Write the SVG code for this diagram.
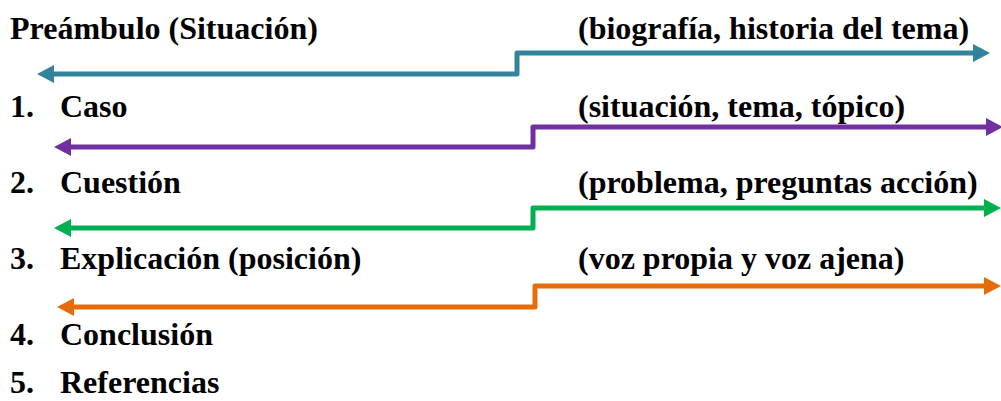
<svg xmlns="http://www.w3.org/2000/svg" width="1001" height="401" viewBox="0 0 1001 401">
<style>
text{font-family:"Liberation Serif","Times New Roman",serif;font-weight:bold;font-size:32px;fill:#000}
.ln{fill:none;stroke-width:5;stroke-linejoin:round}
</style>
<defs>
<marker id="mt" viewBox="0 0 17 18" refX="3" refY="9" markerWidth="17" markerHeight="18" markerUnits="userSpaceOnUse" orient="auto-start-reverse"><path d="M0,0 L17,9 L0,18 z" fill="#31849B"/></marker>
<marker id="mp" viewBox="0 0 17 18" refX="3" refY="9" markerWidth="17" markerHeight="18" markerUnits="userSpaceOnUse" orient="auto-start-reverse"><path d="M0,0 L17,9 L0,18 z" fill="#7030A0"/></marker>
<marker id="mg" viewBox="0 0 17 18" refX="3" refY="9" markerWidth="17" markerHeight="18" markerUnits="userSpaceOnUse" orient="auto-start-reverse"><path d="M0,0 L17,9 L0,18 z" fill="#00B050"/></marker>
<marker id="mo" viewBox="0 0 17 18" refX="3" refY="9" markerWidth="17" markerHeight="18" markerUnits="userSpaceOnUse" orient="auto-start-reverse"><path d="M0,0 L17,9 L0,18 z" fill="#E46C0A"/></marker>
</defs>
<g id="connectors">
<path class="ln" stroke="#31849B" marker-start="url(#mt)" marker-end="url(#mt)" d="M51,74 H517 V53 H976"/>
<path class="ln" stroke="#7030A0" marker-start="url(#mp)" marker-end="url(#mp)" d="M68,147 H533 V127 H989"/>
<path class="ln" stroke="#00B050" marker-start="url(#mg)" marker-end="url(#mg)" d="M68,228 H533 V208 H987"/>
<path class="ln" stroke="#E46C0A" marker-start="url(#mo)" marker-end="url(#mo)" d="M71,307 H535 V286 H987"/>
</g>
<g id="preambulo"><text x="10" y="39">Preámbulo (Situación)</text><text x="578" y="39">(biografía, historia del tema)</text></g>
<g id="caso"><text x="10" y="117">1.</text><text x="60" y="117">Caso</text><text x="578" y="117">(situación, tema, tópico)</text></g>
<g id="cuestion"><text x="10" y="193">2.</text><text x="60" y="193">Cuestión</text><text x="578" y="193">(problema, preguntas acción)</text></g>
<g id="explicacion"><text x="10" y="269">3.</text><text x="60" y="269">Explicación (posición)</text><text x="578" y="269">(voz propia y voz ajena)</text></g>
<g id="conclusion"><text x="10" y="345">4.</text><text x="60" y="345">Conclusión</text></g>
<g id="referencias"><text x="10" y="393">5.</text><text x="60" y="393">Referencias</text></g>
</svg>
